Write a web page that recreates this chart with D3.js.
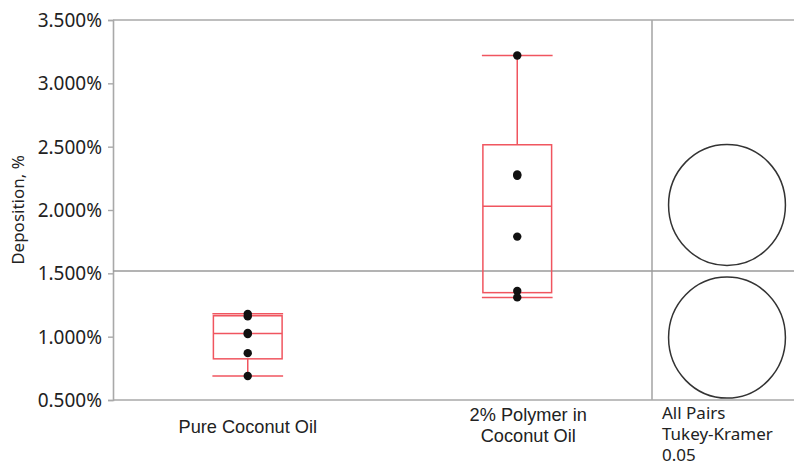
<!DOCTYPE html>
<html>
<head>
<meta charset="utf-8">
<script src="https://cdn.jsdelivr.net/npm/d3@7"></script>
<style>
  html, body { margin: 0; padding: 0; background: #ffffff; }
  svg { display: block; }
</style>
</head>
<body>
<svg id="chart" width="794" height="468"></svg>
<script>
// Deposition (%) per formulation, one dot per replicate
const groups = ["Pure Coconut Oil", "2% Polymer in Coconut Oil"];
const groupLabelLines = [["Pure Coconut Oil"], ["2% Polymer in", "Coconut Oil"]];
const pureCoconutOil = [1.18, 1.16, 1.03, 1.02, 0.87, 0.69];
const polymerInCoconutOil = [3.22, 2.28, 2.27, 1.79, 1.36, 1.31];
const seriesValues = [pureCoconutOil, polymerInCoconutOil];

// Tukey-Kramer comparison circles (centre = group mean, radius in % units)
const circleCenters = [0.993, 2.04];
const circleRadius = 0.478;
const grandMean = 1.518;

const yTicks = [0.5, 1.0, 1.5, 2.0, 2.5, 3.0, 3.5];
const yTickLabels = ["0.500%", "1.000%", "1.500%", "2.000%", "2.500%", "3.000%", "3.500%"];
const yTitle = "Deposition, %";
const comparisonLabel = ["All Pairs", "Tukey-Kramer", "0.05"];

const svg = d3.select("#chart");
const W = 794, H = 468;
const plot = { left: 113, right: 652, top: 20, bottom: 400 };
const panelRight = W;

const y = d3.scaleLinear().domain([0.5, 3.5]).range([plot.bottom, plot.top]);
const x = d3.scaleBand().domain(groups).range([plot.left, plot.right]);

const gray = "#a9a9a9";
const red = "#f0555f";
const tickFont = "'Noto Sans', 'Open Sans', sans-serif";
const catFont = "'Liberation Sans', Arial, sans-serif";

// quantile with (n+1)p positioning
function quantile(values, p) {
  const s = values.slice().sort((a, b) => a - b);
  const n = s.length;
  const pos = p * (n + 1);
  if (pos <= 1) return s[0];
  if (pos >= n) return s[n - 1];
  const lo = Math.floor(pos), frac = pos - lo;
  return s[lo - 1] + frac * (s[lo] - s[lo - 1]);
}

// frame: top border, bottom border, divider for comparison panel
svg.append("line").attr("x1", plot.left).attr("x2", panelRight)
  .attr("y1", plot.top).attr("y2", plot.top)
  .attr("stroke", gray).attr("stroke-width", 1.6);
svg.append("line").attr("x1", plot.left).attr("x2", panelRight)
  .attr("y1", plot.bottom).attr("y2", plot.bottom)
  .attr("stroke", gray).attr("stroke-width", 1.6);
svg.append("line").attr("x1", plot.right).attr("x2", plot.right)
  .attr("y1", plot.top).attr("y2", plot.bottom)
  .attr("stroke", gray).attr("stroke-width", 1.6);

// y axis
const yAxis = d3.axisLeft(y).tickValues(yTicks)
  .tickFormat((d, i) => yTickLabels[i]).tickSize(5).tickPadding(6);
const gy = svg.append("g").attr("transform", `translate(${plot.left},0)`).call(yAxis);
gy.select(".domain").attr("stroke", gray).attr("stroke-width", 1.6);
gy.selectAll(".tick line").attr("stroke", gray).attr("stroke-width", 1.4);
gy.selectAll(".tick text").attr("fill", "#222").attr("font-family", tickFont)
  .attr("font-size", 19).attr("dy", "0.34em");

// y title
svg.append("text")
  .attr("transform", `translate(24,210) rotate(-90)`)
  .attr("text-anchor", "middle").attr("font-family", tickFont).attr("font-size", 17)
  .attr("fill", "#222").text(yTitle);

// grand mean line across both panels
svg.append("line").attr("x1", plot.left).attr("x2", panelRight)
  .attr("y1", y(grandMean)).attr("y2", y(grandMean))
  .attr("stroke", "#9a9a9a").attr("stroke-width", 1.6);

// box plots
const boxW = x.bandwidth() * 0.255;
groups.forEach((g, i) => {
  const vals = seriesValues[i];
  const cx = x(g) + x.bandwidth() / 2;
  const q1 = quantile(vals, 0.25), med = quantile(vals, 0.5), q3 = quantile(vals, 0.75);
  const lo = d3.min(vals), hi = d3.max(vals);
  const gb = svg.append("g").attr("stroke", red).attr("stroke-width", 1.5).attr("fill", "none");
  gb.append("rect").attr("x", cx - boxW / 2).attr("width", boxW)
    .attr("y", y(q3)).attr("height", y(q1) - y(q3));
  gb.append("line").attr("x1", cx - boxW / 2).attr("x2", cx + boxW / 2)
    .attr("y1", y(med)).attr("y2", y(med));
  gb.append("line").attr("x1", cx).attr("x2", cx).attr("y1", y(q3)).attr("y2", y(hi));
  gb.append("line").attr("x1", cx).attr("x2", cx).attr("y1", y(q1)).attr("y2", y(lo));
  [lo, hi].forEach(v => {
    gb.append("line").attr("x1", cx - boxW / 2 - 1).attr("x2", cx + boxW / 2 + 1)
      .attr("y1", y(v)).attr("y2", y(v));
  });
  svg.append("g").selectAll("circle").data(vals).join("circle")
    .attr("cx", cx).attr("cy", d => y(d)).attr("r", 4.2).attr("fill", "#111");
});

// category labels
groups.forEach((g, i) => {
  const lines = groupLabelLines[i];
  const cx = x(g) + x.bandwidth() / 2 + (lines.length > 1 ? 11 : 0);
  const t = svg.append("text").attr("text-anchor", "middle")
    .attr("font-family", catFont).attr("font-size", 18.2).attr("fill", "#222");
  lines.forEach((l, k) => {
    t.append("tspan").attr("x", cx)
      .attr("y", (lines.length > 1 ? 421 : 433) + k * 21).text(l);
  });
});

// comparison circles
const circleX = (plot.right + panelRight) / 2 + 4;
const rPx = y(0) - y(circleRadius);
svg.append("g").selectAll("ellipse").data(circleCenters).join("ellipse")
  .attr("cx", circleX).attr("cy", d => y(d))
  .attr("rx", rPx * 0.965).attr("ry", rPx)
  .attr("fill", "none").attr("stroke", "#333").attr("stroke-width", 1.5);

// comparison label
const cl = svg.append("text").attr("font-family", tickFont).attr("font-size", 17)
  .attr("fill", "#222");
comparisonLabel.forEach((l, k) => {
  cl.append("tspan").attr("x", plot.right + 10).attr("y", 419 + k * 21).text(l);
});
</script>
</body>
</html>
